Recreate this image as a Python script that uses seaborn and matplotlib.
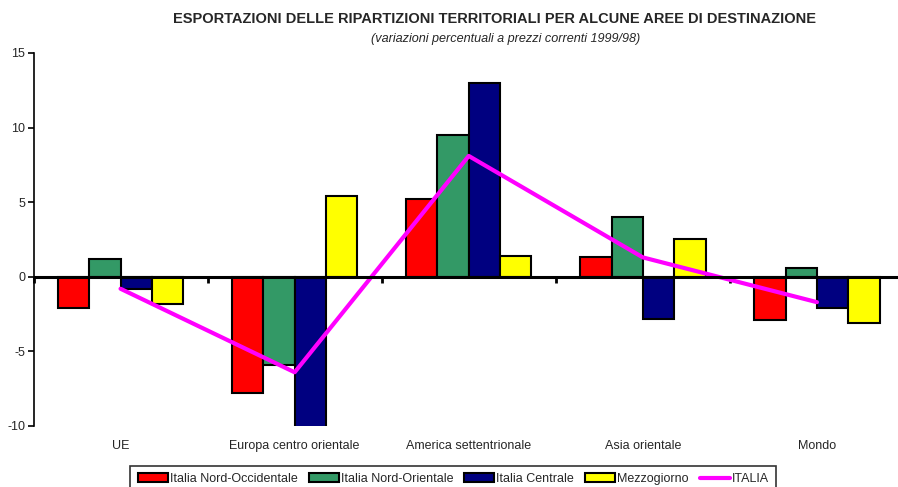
import pandas as pd
import matplotlib
matplotlib.use("Agg")
import matplotlib.pyplot as plt
import seaborn as sns
import numpy as np

# categories and series
aree = ["UE", "Europa centro orientale", "America settentrionale", "Asia orientale", "Mondo"]
ripartizioni = ["Italia Nord-Occidentale", "Italia Nord-Orientale", "Italia Centrale", "Mezzogiorno"]
nord_ovest = [-2.1, -7.8, 5.2, 1.3, -2.9]
nord_est = [1.2, -5.9, 9.5, 4.0, 0.6]
centro = [-0.8, -10.3, 13.0, -2.8, -2.1]
mezzogiorno = [-1.8, 5.4, 1.4, 2.5, -3.1]
italia = [-0.8, -6.4, 8.1, 1.3, -1.7]

colori = ["#ff0000", "#339966", "#000080", "#ffff00"]

df = pd.DataFrame({
    "area": aree * 4,
    "ripartizione": np.repeat(ripartizioni, len(aree)),
    "valore": nord_ovest + nord_est + centro + mezzogiorno,
})

sns.set_style("white")
plt.rcParams["font.family"] = ["Liberation Sans", "DejaVu Sans"]
plt.rcParams["axes.unicode_minus"] = False

fig = plt.figure(figsize=(8.98, 4.87), dpi=100)
ax = fig.add_axes([33.5 / 898, 1 - 426 / 487, (904 - 33.5) / 898, (426 - 53) / 487])

sns.barplot(data=df, x="area", y="valore", hue="ripartizione", order=aree,
            hue_order=ripartizioni, palette=colori, width=0.72, edgecolor="black",
            linewidth=1.5, saturation=1, ax=ax)
sns.lineplot(x=np.arange(len(aree)), y=italia, color="#ff00ff", linewidth=3,
             label="ITALIA", sort=False, ax=ax)

ymin, ymax = -10, 15
ax.set_ylim(ymin, ymax)
ax.set_xlim(-0.5, len(aree) - 0.5)
ax.set_yticks(np.arange(-10, 16, 5))
ax.set_xlabel("")
ax.set_ylabel("")

for s in ["top", "right", "bottom"]:
    ax.spines[s].set_visible(False)
ax.spines["left"].set_color("black")
ax.spines["left"].set_linewidth(1.2)
ax.tick_params(axis="y", direction="out", length=4, width=1.2, color="black",
               left=True, labelsize=9, pad=2)
ax.tick_params(axis="x", length=0, labelsize=9, pad=10)

# zero line with small category separators
ax.axhline(0, color="black", linewidth=2.2, zorder=5)
sec = ax.secondary_xaxis((0 - ymin) / (ymax - ymin))
sec.set_xticks(np.arange(-0.5, len(aree), 1))
sec.set_xticklabels([])
sec.spines["bottom"].set_visible(False)
sec.tick_params(direction="out", length=4, width=2, color="black")

fig.text(0.551, 0.961, "ESPORTAZIONI DELLE RIPARTIZIONI TERRITORIALI PER ALCUNE AREE DI DESTINAZIONE",
         ha="center", va="center", fontsize=10.5, fontweight="bold")
fig.text(0.563, 0.919, "(variazioni percentuali a prezzi correnti 1999/98)",
         ha="center", va="center", fontsize=9.1, style="italic")

handles, labels = ax.get_legend_handles_labels()
leg = fig.legend(handles, labels, loc="upper center", bbox_to_anchor=(0.505, 0.044),
                 ncol=5, frameon=True, fancybox=False, handlelength=2.4, handleheight=0.7,
                 handletextpad=0.15, columnspacing=0.9, borderpad=0.6, borderaxespad=0,
                 prop={"size": 9})
leg.get_frame().set_edgecolor("black")
leg.get_frame().set_linewidth(1.2)
if ax.get_legend():
    ax.get_legend().remove()

fig.savefig("out.png", dpi=100)
